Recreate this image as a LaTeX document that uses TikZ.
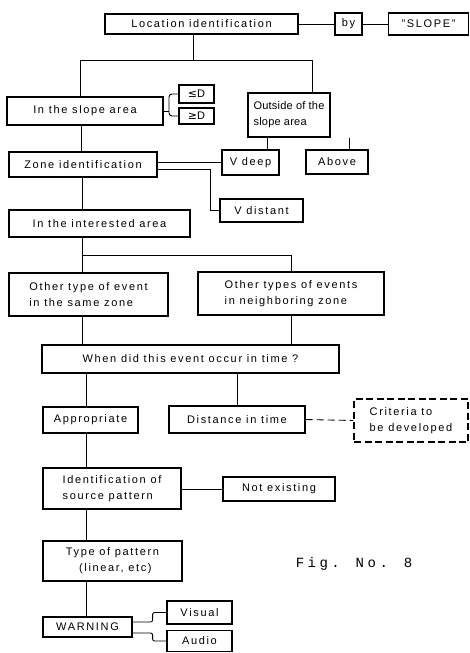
\documentclass[tikz,border=0pt]{standalone}
\usepackage{fontspec}
\setmainfont[LetterSpace=15]{Liberation Sans}
\newfontfamily\symfont{DejaVu Sans}
\newfontfamily\figfont[LetterSpace=25]{Liberation Mono}
\begin{document}
\begin{tikzpicture}[x=1pt,y=-1pt,font=\fontsize{11}{16}\selectfont]
\tikzset{
  box/.style={draw,line width=1.2pt,inner sep=2pt,align=left},
  dbox/.style={box,dash pattern=on 7pt off 3.5pt},
  ln/.style={line width=0.9pt},
}
\useasboundingbox (0,0) rectangle (470,653);
% boxes
\node[box,minimum width=193pt,minimum height=20pt] (loc) at (201.5,24) {Location identification};
\node[box,minimum width=27pt,minimum height=22pt] (by) at (348.5,24) {by};
\node[box,minimum width=80pt,minimum height=22pt] (slope) at (428.5,24) {"SLOPE"};
\node[box,minimum width=156pt,minimum height=28pt] (inslope) at (85,111) {In the slope area};
\node[box,minimum width=82pt,minimum height=44pt,font=\fontsize{11}{16}\selectfont\addfontfeatures{LetterSpace=2}] (outside) at (289,115) {Outside of the\\slope area};
\node[box,minimum width=35pt,minimum height=18pt] (le) at (196.5,94) {{\symfont ≤}D};
\node[box,minimum width=35pt,minimum height=16pt] (ge) at (196.5,116) {{\symfont ≥}D};
\node[box,minimum width=148pt,minimum height=25pt] (zone) at (83,164.5) {Zone identification};
\node[box,minimum width=57pt,minimum height=25pt] (vdeep) at (250.5,162.5) {V deep};
\node[box,minimum width=62pt,minimum height=24pt] (above) at (337,162) {Above};
\node[box,minimum width=83pt,minimum height=23pt] (vdist) at (261.5,210.5) {V distant};
\node[box,minimum width=181pt,minimum height=27pt] (interest) at (99.5,223.5) {In the interested area};
\node[box,minimum width=159pt,minimum height=43pt] (same) at (88.5,294.5) {Other type of event\\in the same zone};
\node[box,minimum width=186pt,minimum height=43pt] (neigh) at (291,293.5) {Other types of events\\in neighboring zone};
\node[box,minimum width=297pt,minimum height=28pt] (when) at (190.5,359) {When did this event occur in time ?};
\node[box,minimum width=95pt,minimum height=26pt] (approp) at (90.5,420) {Appropriate};
\node[box,minimum width=136pt,minimum height=27pt] (dist) at (237,419.5) {Distance in time};
\node[dbox,minimum width=114pt,minimum height=43pt] (crit) at (411,420.5) {Criteria to\\be developed};
\node[box,minimum width=138pt,minimum height=41pt] (ident) at (112,488.5) {Identification of\\source pattern};
\node[box,minimum width=112pt,minimum height=24pt] (notex) at (279,489) {Not existing};
\node[box,minimum width=139pt,minimum height=40pt] (type) at (112.5,561) {Type of pattern\\\hspace{1.2em}(linear, etc)};
\node[box,minimum width=89pt,minimum height=20pt] (warn) at (87.5,627) {WARNING};
\node[box,minimum width=65pt,minimum height=23pt] (visual) at (199.5,612.5) {Visual};
\node[box,minimum width=65pt,minimum height=21pt] (audio) at (199.5,641) {Audio};
\node[font=\figfont\fontsize{14}{16}\selectfont] (fig) at (354,564) {Fig. No. 8};
% connectors
\draw[ln] (loc) -- (by);
\draw[ln] (by) -- (slope);
\coordinate (j1) at (193,60);
\coordinate (jl) at (80,60);
\coordinate (jr) at (312,60);
\draw[ln] (j1 |- loc.south) -- (j1);
\draw[ln] (jl |- inslope.north) -- (jl) -- (jr) -- (jr |- outside.north);
\coordinate (br) at (169,0);
\draw[ln] (inslope.east) -- (inslope.east -| br);
\draw[ln,rounded corners=3pt] (le.west) -- (le.west -| br) -- (ge.west -| br) -- (ge.west);
\coordinate (zx) at (81,0);
\draw[ln] (zx |- inslope.south) -- (zx |- zone.north);
\coordinate (od) at (267,0);
\coordinate (oa) at (349,0);
\draw[ln] (od |- outside.south) -- (od |- vdeep.north);
\draw[ln] (oa |- outside.south) -- (oa |- above.north);
\draw[ln] (zone.east |- vdeep.west) -- (vdeep.west);
\coordinate (zd) at (210,169);
\draw[ln] (zone.east |- zd) -- (zd) |- (vdist.west);
\coordinate (ix) at (82,0);
\draw[ln] (ix |- zone.south) -- (ix |- interest.north);
\coordinate (ib) at (82,255);
\draw[ln] (ix |- interest.south) -- (ix |- same.north);
\draw[ln] (ib) -| (neigh.north);
\draw[ln] (ix |- same.south) -- (ix |- when.north);
\draw[ln] (neigh.south) -- (neigh.south |- when.north);
\coordinate (ax) at (86,0);
\draw[ln] (ax |- when.south) -- (ax |- approp.north);
\draw[ln] (dist.north |- when.south) -- (dist.north);
\draw[ln,dash pattern=on 7pt off 4pt] (dist.east) -- (crit.west);
\draw[ln] (ax |- approp.south) -- (ax |- ident.north);
\draw[ln] (ident.east |- notex.west) -- (notex.west);
\draw[ln] (ax |- ident.south) -- (ax |- type.north);
\draw[ln] (ax |- type.south) -- (ax |- warn.north);
\draw[ln,rounded corners=2pt] ([yshift=5pt]warn.east) -- ++(20,0) |- (visual.west);
\draw[ln,rounded corners=2pt] ([yshift=-6pt]warn.east) -- ++(20,0) |- (audio.west);
\end{tikzpicture}
\end{document}
